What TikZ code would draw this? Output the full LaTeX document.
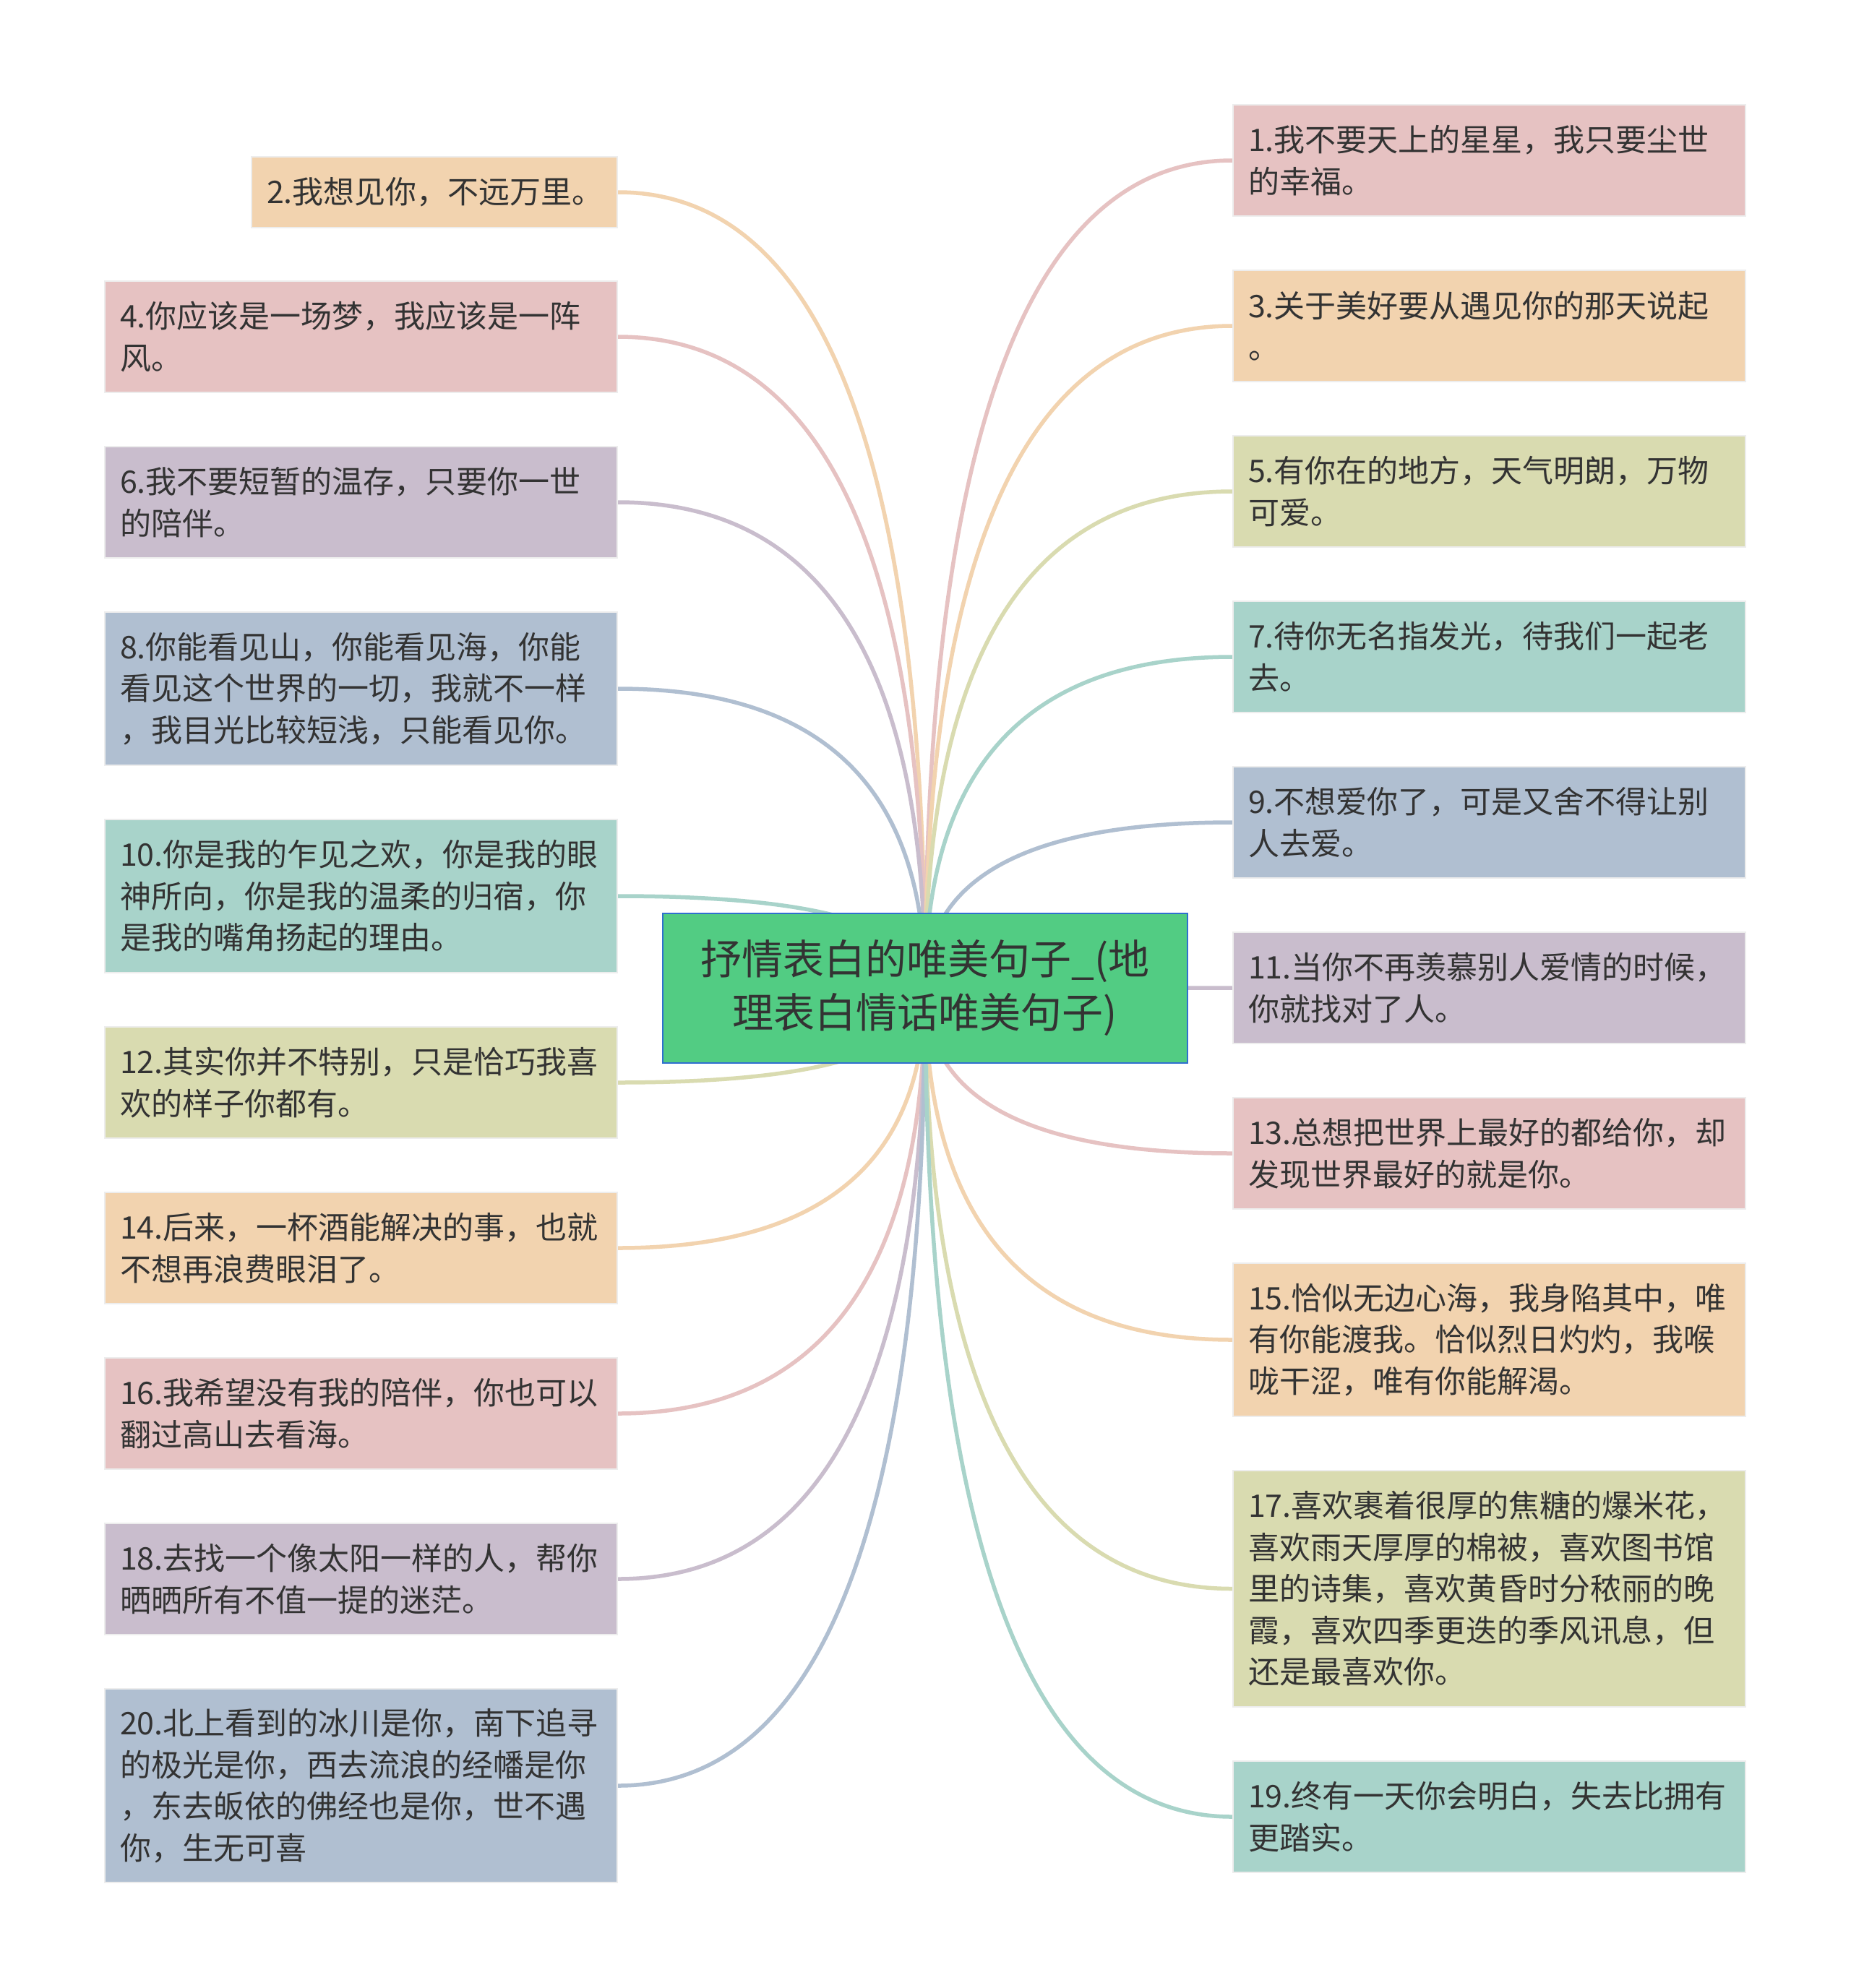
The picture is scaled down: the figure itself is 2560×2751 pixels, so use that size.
\documentclass[tikz,border=0pt]{standalone}
\usepackage{fontspec}
\setmainfont{Noto Sans CJK SC}
\usetikzlibrary{calc,backgrounds}
\definecolor{cpink}{HTML}{E6C2C2}
\definecolor{cpeach}{HTML}{F2D3AF}
\definecolor{clav}{HTML}{C9BDCD}
\definecolor{cblue}{HTML}{B0BFD1}
\definecolor{cteal}{HTML}{A8D3CA}
\definecolor{colive}{HTML}{D9DBB0}
\definecolor{rootfill}{HTML}{52CC83}
\definecolor{rootline}{HTML}{2F6FCF}
\definecolor{txt}{HTML}{333333}
\tikzset{
  leaf/.style={anchor=north west, draw=black!7, line width=1pt, inner xsep=10.5pt, inner ysep=0pt,
    text width=333.5pt, align=left, text=txt, font=\fontsize{21.5pt}{28.75pt}\selectfont},
  hone/.style={minimum height=49pt},
  htwo/.style={minimum height=77pt},
  hthree/.style={minimum height=106pt},
  hfour/.style={minimum height=134pt},
  hfive/.style={minimum height=163.5pt},
  rootbox/.style={anchor=north west, draw=rootline, line width=1pt, fill=rootfill, inner sep=0pt,
    minimum width=363pt, minimum height=103.5pt, text width=340pt, align=center, text=txt,
    font=\fontsize{28.5pt}{37pt}\selectfont},
  conn/.style={line width=2.75pt}
}
\newcommand\myconn[3]{\draw[conn,#3] (root.center) .. controls ($(root.center)!0.6667!(root.center |- #1.#2)$) and ($(#1.#2)!0.6667!(root.center |- #1.#2)$) .. (#1.#2);}
\begin{document}
\begin{tikzpicture}[x=0.5pt,y=-0.5pt]
\useasboundingbox (0,0) rectangle (2560,2751);
% root
\node[rootbox] (root) at (916,1263) {抒情表白的唯美句子\_(地\\理表白情话唯美句子)};
% left
\node[leaf,hone,fill=cpeach,text width=232pt] (n2) at (347,216) {2.我想见你，不远万里。};
\node[leaf,htwo,fill=cpink] (n4) at (144,388) {4.你应该是一场梦，我应该是一阵\\风。};
\node[leaf,htwo,fill=clav] (n6) at (144,617) {6.我不要短暂的温存，只要你一世\\的陪伴。};
\node[leaf,hthree,fill=cblue] (n8) at (144,846) {8.你能看见山，你能看见海，你能\\看见这个世界的一切，我就不一样\\，我目光比较短浅，只能看见你。};
\node[leaf,hthree,fill=cteal] (n10) at (144,1133) {10.你是我的乍见之欢，你是我的眼\\神所向，你是我的温柔的归宿，你\\是我的嘴角扬起的理由。};
\node[leaf,htwo,fill=colive] (n12) at (144,1420) {12.其实你并不特别，只是恰巧我喜\\欢的样子你都有。};
\node[leaf,htwo,fill=cpeach] (n14) at (144,1649) {14.后来，一杯酒能解决的事，也就\\不想再浪费眼泪了。};
\node[leaf,htwo,fill=cpink] (n16) at (144,1878) {16.我希望没有我的陪伴，你也可以\\翻过高山去看海。};
\node[leaf,htwo,fill=clav] (n18) at (144,2107) {18.去找一个像太阳一样的人，帮你\\晒晒所有不值一提的迷茫。};
\node[leaf,hfour,fill=cblue] (n20) at (144,2336) {20.北上看到的冰川是你，南下追寻\\的极光是你，西去流浪的经幡是你\\，东去皈依的佛经也是你，世不遇\\你，生无可喜};
% right
\node[leaf,htwo,fill=cpink] (n1) at (1705,144) {1.我不要天上的星星，我只要尘世\\的幸福。};
\node[leaf,htwo,fill=cpeach] (n3) at (1705,373) {3.关于美好要从遇见你的那天说起\\。};
\node[leaf,htwo,fill=colive] (n5) at (1705,602) {5.有你在的地方，天气明朗，万物\\可爱。};
\node[leaf,htwo,fill=cteal] (n7) at (1705,831) {7.待你无名指发光，待我们一起老\\去。};
\node[leaf,htwo,fill=cblue] (n9) at (1705,1060) {9.不想爱你了，可是又舍不得让别\\人去爱。};
\node[leaf,htwo,fill=clav] (n11) at (1705,1289) {11.当你不再羡慕别人爱情的时候，\\你就找对了人。};
\node[leaf,htwo,fill=cpink] (n13) at (1705,1518) {13.总想把世界上最好的都给你，却\\发现世界最好的就是你。};
\node[leaf,hthree,fill=cpeach] (n15) at (1705,1747) {15.恰似无边心海，我身陷其中，唯\\有你能渡我。恰似烈日灼灼，我喉\\咙干涩，唯有你能解渴。};
\node[leaf,hfive,fill=colive] (n17) at (1705,2034) {17.喜欢裹着很厚的焦糖的爆米花，\\喜欢雨天厚厚的棉被，喜欢图书馆\\里的诗集，喜欢黄昏时分秾丽的晚\\霞，喜欢四季更迭的季风讯息，但\\还是最喜欢你。};
\node[leaf,htwo,fill=cteal] (n19) at (1705,2436) {19.终有一天你会明白，失去比拥有\\更踏实。};
\begin{pgfonlayer}{background}
\fill[white] (0,0) rectangle (2560,2751);
\myconn{n2}{east}{cpeach}
\myconn{n4}{east}{cpink}
\myconn{n6}{east}{clav}
\myconn{n8}{east}{cblue}
\myconn{n10}{east}{cteal}
\myconn{n12}{east}{colive}
\myconn{n14}{east}{cpeach}
\myconn{n16}{east}{cpink}
\myconn{n18}{east}{clav}
\myconn{n20}{east}{cblue}
\myconn{n1}{west}{cpink}
\myconn{n3}{west}{cpeach}
\myconn{n5}{west}{colive}
\myconn{n7}{west}{cteal}
\myconn{n9}{west}{cblue}
\myconn{n11}{west}{clav}
\myconn{n13}{west}{cpink}
\myconn{n15}{west}{cpeach}
\myconn{n17}{west}{colive}
\myconn{n19}{west}{cteal}
\end{pgfonlayer}
\end{tikzpicture}
\end{document}
